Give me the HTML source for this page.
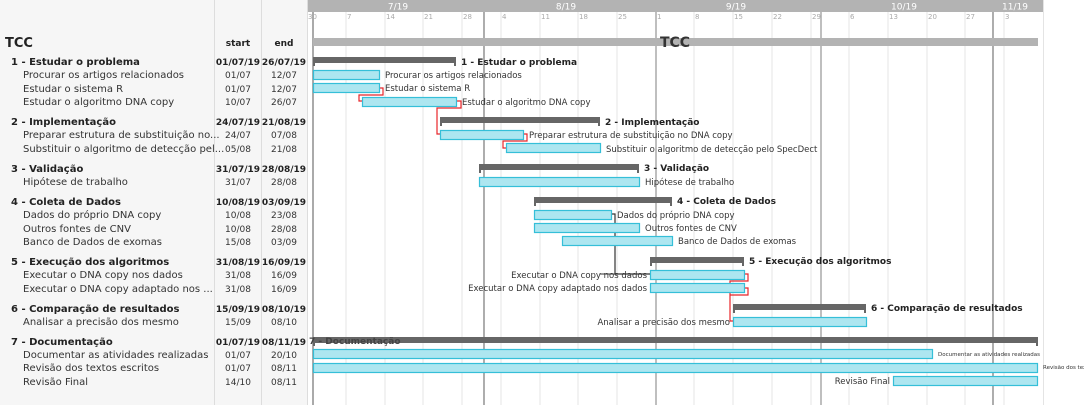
<!DOCTYPE html>
<html><head><meta charset="utf-8"><style>
html,body{margin:0;padding:0;background:#fff;}
svg{display:block;font-family:"DejaVu Sans","Liberation Sans",sans-serif;}
</style></head><body>
<svg width="1084" height="405" viewBox="0 0 1084 405" xmlns="http://www.w3.org/2000/svg">
<rect x="0" y="0" width="308" height="405" fill="#f6f6f6"/>
<line x1="214.5" y1="0" x2="214.5" y2="405" stroke="#dddddd"/>
<line x1="261.5" y1="0" x2="261.5" y2="405" stroke="#dddddd"/>
<line x1="307.5" y1="0" x2="307.5" y2="405" stroke="#dddddd"/>
<rect x="308" y="0" width="735" height="405" fill="#ffffff"/>
<line x1="1043.5" y1="0" x2="1043.5" y2="405" stroke="#e4e4e4"/>
<!-- week lines -->
<g stroke="#e4e4e4" stroke-width="1">
<line x1="346" y1="12" x2="346" y2="405"/><line x1="385" y1="12" x2="385" y2="405"/><line x1="423" y1="12" x2="423" y2="405"/><line x1="462" y1="12" x2="462" y2="405"/><line x1="501" y1="12" x2="501" y2="405"/><line x1="540" y1="12" x2="540" y2="405"/><line x1="578" y1="12" x2="578" y2="405"/><line x1="617" y1="12" x2="617" y2="405"/><line x1="694" y1="12" x2="694" y2="405"/><line x1="733" y1="12" x2="733" y2="405"/><line x1="772" y1="12" x2="772" y2="405"/><line x1="811" y1="12" x2="811" y2="405"/><line x1="849" y1="12" x2="849" y2="405"/><line x1="888" y1="12" x2="888" y2="405"/><line x1="927" y1="12" x2="927" y2="405"/><line x1="965" y1="12" x2="965" y2="405"/><line x1="1004" y1="12" x2="1004" y2="405"/>
</g>
<g stroke="#aaaaaa" stroke-width="1.5">
<line x1="313" y1="12" x2="313" y2="405" stroke-width="2"/>
<line x1="656" y1="12" x2="656" y2="405"/>
<line x1="821" y1="12" x2="821" y2="405"/>
</g>
<line x1="484" y1="12" x2="484" y2="405" stroke="#777" stroke-width="1.2"/>
<line x1="993" y1="12" x2="993" y2="405" stroke="#777" stroke-width="1.2"/>
<!-- header -->
<rect x="308" y="0" width="735" height="12" fill="#b3b3b3"/>
<g fill="#ffffff" font-size="9" text-anchor="middle">
<text x="398" y="9.5">7/19</text><text x="566" y="9.5">8/19</text><text x="736" y="9.5">9/19</text><text x="904" y="9.5">10/19</text><text x="1015" y="9.5">11/19</text>
</g>
<g fill="#aaaaaa" font-size="7">
<text x="308" y="19">30</text><text x="347" y="19">7</text><text x="386" y="19">14</text><text x="424" y="19">21</text><text x="463" y="19">28</text><text x="502" y="19">4</text><text x="541" y="19">11</text><text x="579" y="19">18</text><text x="618" y="19">25</text><text x="657" y="19">1</text><text x="695" y="19">8</text><text x="734" y="19">15</text><text x="773" y="19">22</text><text x="812" y="19">29</text><text x="850" y="19">6</text><text x="889" y="19">13</text><text x="928" y="19">20</text><text x="966" y="19">27</text><text x="1005" y="19">3</text>
</g>
<rect x="313" y="38" width="725" height="8" fill="#b3b3b3"/>
<text x="675" y="47" font-size="14" font-weight="bold" fill="#333" text-anchor="middle">TCC</text>
<!-- left table -->
<text x="5" y="47" font-size="13" font-weight="bold" fill="#222">TCC</text>
<text x="238" y="46" font-size="9" font-weight="bold" fill="#222" text-anchor="middle">start</text>
<text x="284" y="46" font-size="9" font-weight="bold" fill="#222" text-anchor="middle">end</text>
<g font-size="10" fill="#333">
<g font-weight="bold" fill="#222">
<text x="11" y="65">1 - Estudar o problema</text>
<text x="11" y="125">2 - Implementação</text>
<text x="11" y="172">3 - Validação</text>
<text x="11" y="205">4 - Coleta de Dados</text>
<text x="11" y="265">5 - Execução dos algoritmos</text>
<text x="11" y="312">6 - Comparação de resultados</text>
<text x="11" y="345">7 - Documentação</text>
</g>
<text x="23" y="78">Procurar os artigos relacionados</text>
<text x="23" y="92">Estudar o sistema R</text>
<text x="23" y="105">Estudar o algoritmo DNA copy</text>
<text x="23" y="138">Preparar estrutura de substituição no...</text>
<text x="23" y="152">Substituir o algoritmo de detecção pel...</text>
<text x="23" y="185">Hipótese de trabalho</text>
<text x="23" y="218">Dados do próprio DNA copy</text>
<text x="23" y="232">Outros fontes de CNV</text>
<text x="23" y="245">Banco de Dados de exomas</text>
<text x="23" y="278">Executar o DNA copy nos dados</text>
<text x="23" y="292">Executar o DNA copy adaptado nos ...</text>
<text x="23" y="325">Analisar a precisão dos mesmo</text>
<text x="23" y="358">Documentar as atividades realizadas</text>
<text x="23" y="371">Revisão dos textos escritos</text>
<text x="23" y="385">Revisão Final</text>
</g>
<g font-size="9" fill="#333" text-anchor="middle">
<g font-weight="bold" fill="#222">
<text x="238" y="65">01/07/19</text><text x="284" y="65">26/07/19</text>
<text x="238" y="125">24/07/19</text><text x="284" y="125">21/08/19</text>
<text x="238" y="172">31/07/19</text><text x="284" y="172">28/08/19</text>
<text x="238" y="205">10/08/19</text><text x="284" y="205">03/09/19</text>
<text x="238" y="265">31/08/19</text><text x="284" y="265">16/09/19</text>
<text x="238" y="312">15/09/19</text><text x="284" y="312">08/10/19</text>
<text x="238" y="345">01/07/19</text><text x="284" y="345">08/11/19</text>
</g>
<text x="238" y="78">01/07</text><text x="284" y="78">12/07</text>
<text x="238" y="92">01/07</text><text x="284" y="92">12/07</text>
<text x="238" y="105">10/07</text><text x="284" y="105">26/07</text>
<text x="238" y="138">24/07</text><text x="284" y="138">07/08</text>
<text x="238" y="152">05/08</text><text x="284" y="152">21/08</text>
<text x="238" y="185">31/07</text><text x="284" y="185">28/08</text>
<text x="238" y="218">10/08</text><text x="284" y="218">23/08</text>
<text x="238" y="232">10/08</text><text x="284" y="232">28/08</text>
<text x="238" y="245">15/08</text><text x="284" y="245">03/09</text>
<text x="238" y="278">31/08</text><text x="284" y="278">16/09</text>
<text x="238" y="292">31/08</text><text x="284" y="292">16/09</text>
<text x="238" y="325">15/09</text><text x="284" y="325">08/10</text>
<text x="238" y="358">01/07</text><text x="284" y="358">20/10</text>
<text x="238" y="371">01/07</text><text x="284" y="371">08/11</text>
<text x="238" y="385">14/10</text><text x="284" y="385">08/11</text>
</g>
<!-- connectors -->
<g fill="none" stroke="#e8252a" stroke-width="1.2">
<polyline points="379,88 383,88 383,95 359,95 359,101 362,101"/>
<polyline points="457,101 461,101 461,108 437,108 437,134 440,134"/>
<polyline points="523,134 527,134 527,141 503,141 503,148 506,148"/>
<polyline points="744,274 748,274 748,281 730,281 730,321 733,321"/>
<polyline points="744,288 748,288 748,295 730,295"/>
</g>
<polyline points="611,214 615,214 615,274 650,274" fill="none" stroke="#333" stroke-width="1.2"/>
<!-- summary bars -->
<g fill="#666">
<path d="M313,57h143v9h-2v-3h-139v3h-2z"/>
<path d="M440,117h160v9h-2v-3h-156v3h-2z"/>
<path d="M479,164h160v9h-2v-3h-156v3h-2z"/>
<path d="M534,197h138v9h-2v-3h-134v3h-2z"/>
<path d="M650,257h94v9h-2v-3h-90v3h-2z"/>
<path d="M733,304h133v9h-2v-3h-129v3h-2z"/>
<path d="M313,337h725v9h-2v-3h-721v3h-2z"/>
</g>
<!-- task bars -->
<g fill="#ade6f0" stroke="#35bfd8" stroke-width="1.2">
<rect x="313.5" y="70.5" width="66" height="9"/>
<rect x="313.5" y="83.5" width="66" height="9"/>
<rect x="362.5" y="97.5" width="94" height="9"/>
<rect x="440.5" y="130.5" width="83" height="9"/>
<rect x="506.5" y="143.5" width="94" height="9"/>
<rect x="479.5" y="177.5" width="160" height="9"/>
<rect x="534.5" y="210.5" width="77" height="9"/>
<rect x="534.5" y="223.5" width="105" height="9"/>
<rect x="562.5" y="236.5" width="110" height="9"/>
<rect x="650.5" y="270.5" width="94" height="9"/>
<rect x="650.5" y="283.5" width="94" height="9"/>
<rect x="733.5" y="317.5" width="133" height="9"/>
<rect x="313.5" y="349.5" width="619" height="9"/>
<rect x="313.5" y="363.5" width="724" height="9"/>
<rect x="893.5" y="376.5" width="144" height="9"/>
</g>
<!-- chart labels -->
<g font-size="9" font-weight="bold" fill="#222">
<text x="461" y="65">1 - Estudar o problema</text>
<text x="605" y="125">2 - Implementação</text>
<text x="644" y="171">3 - Validação</text>
<text x="677" y="204">4 - Coleta de Dados</text>
<text x="749" y="264">5 - Execução dos algoritmos</text>
<text x="871" y="311">6 - Comparação de resultados</text>
<text x="309" y="344" fill="#444">7 - Documentação</text>
</g>
<g font-size="8.5" fill="#333">
<text x="385" y="78">Procurar os artigos relacionados</text>
<text x="385" y="91">Estudar o sistema R</text>
<text x="462" y="105">Estudar o algoritmo DNA copy</text>
<text x="529" y="138">Preparar estrutura de substituição no DNA copy</text>
<text x="606" y="152">Substituir o algoritmo de detecção pelo SpecDect</text>
<text x="645" y="185">Hipótese de trabalho</text>
<text x="617" y="218">Dados do próprio DNA copy</text>
<text x="645" y="231">Outros fontes de CNV</text>
<text x="678" y="244">Banco de Dados de exomas</text>
<g text-anchor="end">
<text x="647" y="278">Executar o DNA copy nos dados</text>
<text x="647" y="291">Executar o DNA copy adaptado nos dados</text>
<text x="730" y="325">Analisar a precisão dos mesmo</text>
<text x="890" y="384">Revisão Final</text>
</g>
</g>
<line x1="600" y1="274" x2="650" y2="274" stroke="#333" stroke-width="1"/>
<g font-size="5.5" fill="#333">
<text x="938" y="356">Documentar as atividades realizadas</text>
<text x="1043" y="369">Revisão dos textos escritos</text>
</g>
</svg>
</body></html>
